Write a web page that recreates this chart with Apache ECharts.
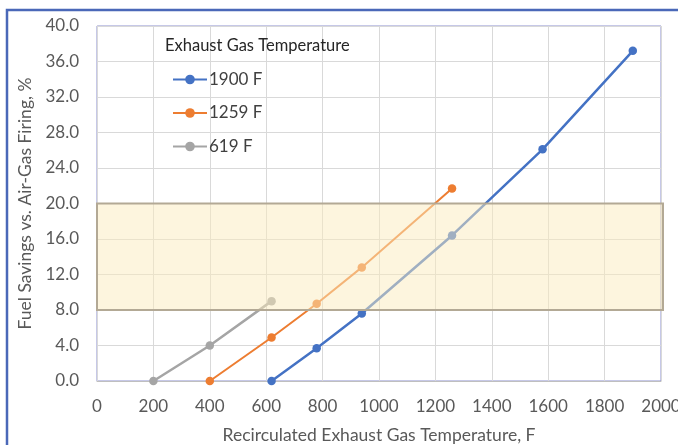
<!DOCTYPE html>
<html>
<head>
<meta charset="utf-8">
<script src="https://cdn.jsdelivr.net/npm/echarts@6/dist/echarts.min.js"></script>
<style>
  html, body { margin: 0; padding: 0; background: #fff; }
  #chart { width: 678px; height: 445px; }
</style>
</head>
<body>
<div id="chart"></div>
<script>
// series data, x = recirculated gas temp (F), y = fuel savings (%)
const hot1900 = [[619, 0.0], [779, 3.7], [939, 7.6], [1259, 16.4], [1580, 26.1], [1900, 37.2]];
const mid1259 = [[400, 0.0], [619, 4.9], [779, 8.7], [939, 12.8], [1259, 21.7]];
const low619 = [[200, 0.0], [400, 4.0], [619, 9.0]];
const seriesNames = ['1900 F', '1259 F', '619 F'];
const bandRange = [8, 20];

const FONT = 'Lato, "Open Sans", sans-serif';
const chart = echarts.init(document.getElementById('chart'));

function lineSeries(name, data, color, width) {
  return {
    name: name,
    type: 'line',
    data: data,
    symbol: 'circle',
    symbolSize: 8.5,
    lineStyle: { color: color, width: width },
    itemStyle: { color: color },
    z: 2
  };
}

chart.setOption({
  animation: false,
  backgroundColor: '#fff',
  textStyle: { fontFamily: FONT },
  graphic: [{
    type: 'rect',
    shape: { x: 7, y: 10, width: 700, height: 500 },
    style: { fill: 'none', stroke: '#4a68b8', lineWidth: 2.5 },
    z: -1
  }],
  grid: {
    left: 97, right: 17, top: 26, bottom: 64,
    outerBoundsMode: 'none',
    show: true, borderColor: '#8c90cf', borderWidth: 1
  },
  legend: {
    data: seriesNames,
    orient: 'vertical',
    left: 172, top: 71,
    padding: 0,
    itemWidth: 34, itemHeight: 12,
    itemGap: 16.5,
    textStyle: { fontSize: 17, color: '#404040', fontFamily: FONT, padding: [0, 0, 0, -3] }
  },
  title: {
    text: 'Exhaust Gas Temperature',
    left: 165, top: 37, padding: 0,
    textStyle: { fontSize: 16.5, fontWeight: 'normal', color: '#262626', fontFamily: FONT }
  },
  xAxis: {
    type: 'value', min: 0, max: 2000, interval: 200,
    name: 'Recirculated Exhaust Gas Temperature, F',
    nameLocation: 'middle', nameGap: 45,
    nameTextStyle: { fontSize: 17.5, color: '#595959', fontFamily: FONT },
    axisLine: { show: true, lineStyle: { color: '#bfbfbf' } },
    axisTick: { show: false },
    axisLabel: {
      fontSize: 17, color: '#595959', margin: 17, fontFamily: FONT,
      formatter: v => String(v)
    },
    splitLine: { show: true, lineStyle: { color: '#d9d9d9' } }
  },
  yAxis: {
    type: 'value', min: 0, max: 40, interval: 4,
    name: 'Fuel Savings vs. Air-Gas Firing, %',
    nameLocation: 'middle', nameGap: 58,
    nameTextStyle: { fontSize: 17.5, color: '#595959', fontFamily: FONT },
    axisLine: { show: true, lineStyle: { color: '#d9d9d9' } },
    axisTick: { show: false },
    axisLabel: {
      fontSize: 17, color: '#595959', margin: 18, fontFamily: FONT,
      formatter: v => v.toFixed(1)
    },
    splitLine: { show: true, lineStyle: { color: '#d9d9d9' } }
  },
  series: [
    lineSeries(seriesNames[0], hot1900, '#4472c4', 2.5),
    lineSeries(seriesNames[1], mid1259, '#ed7d31', 2),
    lineSeries(seriesNames[2], low619, '#a5a5a5', 2.5),
    {
      name: 'band',
      type: 'line',
      data: [],
      z: 10,
      silent: true,
      markArea: {
        silent: true,
        z: 10,
        itemStyle: {
          color: 'rgba(251,236,190,0.5)',
          borderColor: '#b3a995',
          borderWidth: 2
        },
        data: [[{ yAxis: bandRange[0], x: 97 }, { yAxis: bandRange[1], x: 663 }]]
      }
    }
  ]
});
</script>
</body>
</html>
